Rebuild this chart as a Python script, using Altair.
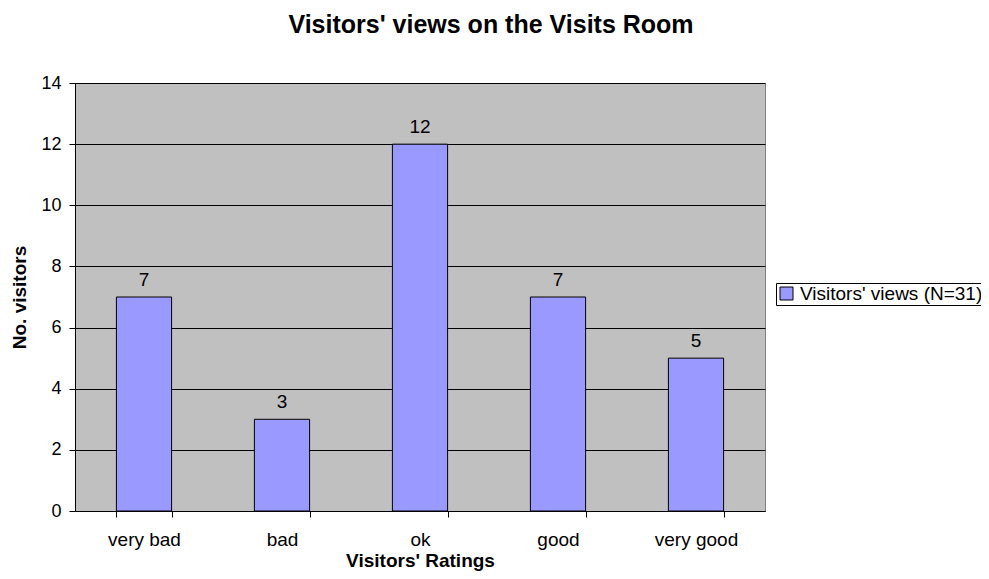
import altair as alt
import pandas as pd

categories = ["very bad", "bad", "ok", "good", "very good"]
counts = [7, 3, 12, 7, 5]
series_name = "Visitors' views (N=31)"
y_ticks = [0, 2, 4, 6, 8, 10, 12, 14]

df = pd.DataFrame({"rating": categories, "visitors": counts, "series": [series_name] * len(categories)})

FONT = "Liberation Sans"

x = alt.X(
    "rating:N",
    sort=categories,
    scale=alt.Scale(paddingInner=0.6, paddingOuter=0.3),
    axis=alt.Axis(
        title="Visitors' Ratings", labelAngle=0, tickBand="extent",
        labelFontSize=19, labelFont=FONT, labelColor="black", labelPadding=13,
        tickSize=6, tickColor="black", domainColor="black",
        titleFontSize=19, titleFont=FONT, titleFontWeight="bold", titleColor="black",
        titleX=345, titleY=55, titleAlign="center", titleBaseline="alphabetic",
    ),
)
y = alt.Y(
    "visitors:Q",
    scale=alt.Scale(domain=[0, 14], nice=False),
    axis=alt.Axis(
        title="No. visitors", values=y_ticks, grid=True, gridColor="black", gridWidth=1,
        tickSize=6, tickColor="black", domainColor="black",
        labelFontSize=18, labelFont=FONT, labelColor="black", labelPadding=8,
        titleFontSize=19, titleFont=FONT, titleFontWeight="bold", titleColor="black",
        titleX=-56, titleY=214, titleAngle=270, titleAlign="center", titleBaseline="middle",
    ),
)

bars = alt.Chart(df).mark_bar(stroke="black", strokeWidth=1, opacity=1).encode(
    x=x,
    y=y,
    color=alt.Color(
        "series:N",
        scale=alt.Scale(range=["#9999FF"]),
        legend=alt.Legend(
            title=None, orient="none", legendX=701, legendY=200,
            strokeColor="black", fillColor="white", padding=1,
            symbolType="square", symbolSize=169, symbolStrokeColor="black",
            symbolStrokeWidth=1, symbolOpacity=1,
            labelFontSize=19, labelFont=FONT, labelColor="black", labelOffset=4,
            labelLimit=400,
        ),
    ),
)

labels = alt.Chart(df).mark_text(
    dy=-11, baseline="alphabetic", fontSize=19, font=FONT, color="black"
).encode(x=x, y=y, text="visitors:Q")

chart = alt.layer(bars, labels).properties(
    width=690,
    height=428,
    title=alt.TitleParams(
        text="Visitors' views on the Visits Room", fontSize=25, font=FONT,
        fontWeight="bold", color="black", anchor="middle", frame="group",
        dx=71, offset=36,
    ),
    autosize=alt.AutoSizeParams(type="none"),
    padding={"left": 67, "top": 75, "right": 216, "bottom": 60},
).configure_view(fill="#C0C0C0", stroke="#808080", strokeWidth=1)

chart.save("out.html", embed_options={"renderer": "svg", "actions": False})
